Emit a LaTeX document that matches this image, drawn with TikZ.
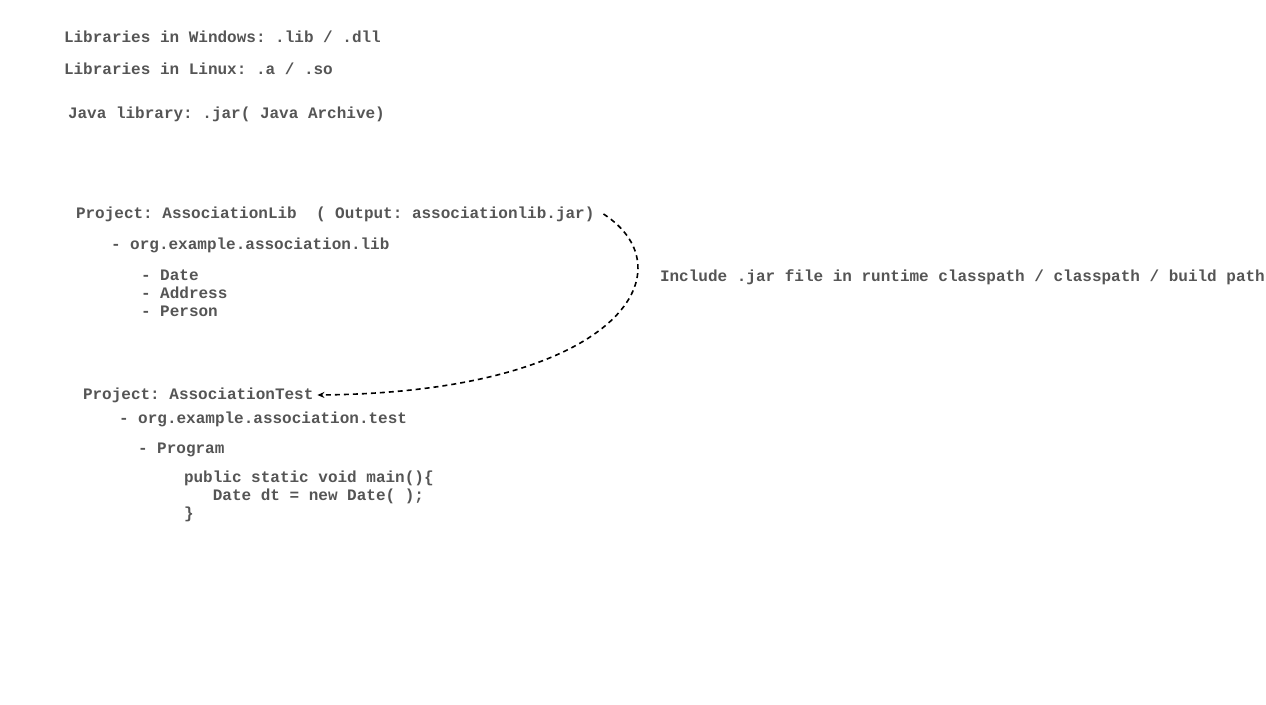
\documentclass[tikz,border=0pt]{standalone}
\usepackage{fontspec}
\setmonofont{Liberation Mono}
\usetikzlibrary{arrows.meta}
\definecolor{txt}{RGB}{85,85,85}
\tikzset{
  lbl/.style={anchor=base west, inner sep=0pt, outer sep=0pt, text=txt,
    font=\ttfamily\bfseries\fontsize{16}{18}\selectfont},
  link/.style={draw=black, line width=1.6pt, dash pattern=on 5pt off 4pt,
    -{Stealth[length=7pt,width=6pt]}}
}
\begin{document}
\begin{tikzpicture}[x=1pt,y=-1pt]
\useasboundingbox (0,0) rectangle (1266,704);
\node[lbl] (win) at (64,42) {Libraries in Windows: .lib / .dll};
\node[lbl] (lin) at (64,74) {Libraries in Linux: .a / .so};
\node[lbl] (jav) at (68,118) {Java library: .jar( Java Archive)};
\node[lbl] (plib) at (76,218) {Project: AssociationLib\ \ ( Output: associationlib.jar)};
\node[lbl] (pkglib) at (111,249) {- org.example.association.lib};
\node[lbl] (date) at (141,280) {- Date};
\node[lbl] (addr) at (141,298) {- Address};
\node[lbl] (pers) at (141,316) {- Person};
\node[lbl] (incl) at (660,281) {Include .jar file in runtime classpath / classpath / build path};
\node[lbl] (ptest) at (83,399) {Project: AssociationTest};
\node[lbl] (pkgtest) at (119,423) {- org.example.association.test};
\node[lbl] (prog) at (138,453) {- Program};
\node[lbl] (code1) at (184,482) {public static void main()\{};
\node[lbl] (code2) at (184,500) {\ \ \ Date dt = new Date( );};
\node[lbl] (code3) at (184,518) {\}};
\draw[link] ([xshift=9pt,yshift=4pt]plib.base east) .. controls (690,270) and (620,392) .. ([xshift=4pt,yshift=4pt]ptest.base east);
\end{tikzpicture}
\end{document}
